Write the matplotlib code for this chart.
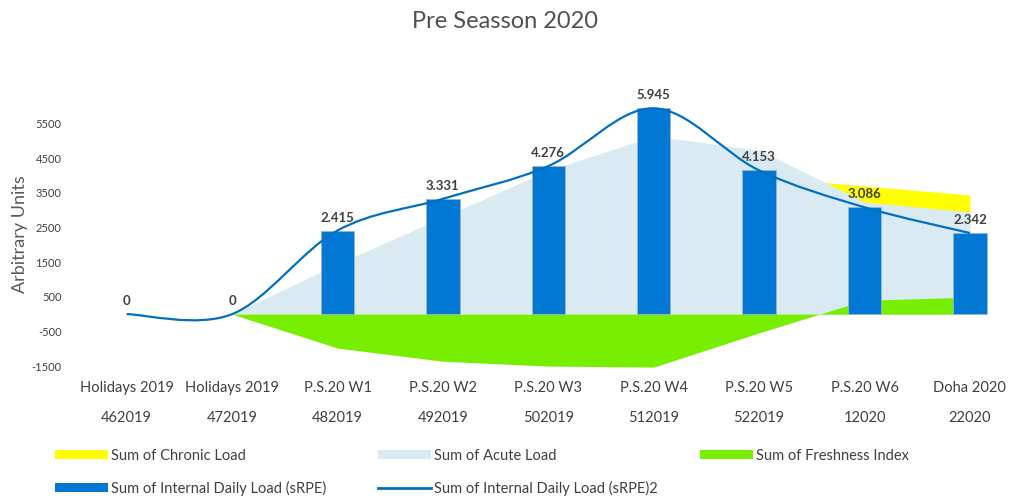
import matplotlib.pyplot as plt
import numpy as np
from matplotlib.path import Path
from matplotlib.patches import PathPatch, Patch
from matplotlib.lines import Line2D
import matplotlib.transforms as mtransforms

# data
week_names = ["Holidays 2019", "Holidays 2019", "P.S.20 W1", "P.S.20 W2", "P.S.20 W3",
              "P.S.20 W4", "P.S.20 W5", "P.S.20 W6", "Doha 2020"]
week_codes = ["462019", "472019", "482019", "492019", "502019",
              "512019", "522019", "12020", "22020"]
internal_load = [0, 0, 2415, 3331, 4276, 5945, 4153, 3086, 2342]
acute_load = [0, 0, 1450, 2800, 4150, 5140, 4740, 3240, 2950]
chronic_load = [0, 0, 500, 1400, 2400, 3300, 3960, 3700, 3440]
freshness = [0, 0, -980, -1360, -1500, -1530, -540, 400, 490]
y_ticks = [5500, 4500, 3500, 2500, 1500, 500, -500, -1500]

plt.rcParams['font.family'] = ['Lato', 'DejaVu Sans']

c_yellow = "#FFFF00"
c_acute = "#DAEAF3"
c_green = "#77EE00"
c_bar = "#0078D4"
c_line = "#0070C0"
c_text = "#404040"


def smooth_path(xs, ys):
    # excel style smoothed line: cubic bezier with 1/6 tangents
    pts = np.column_stack([xs, ys]).astype(float)
    n = len(pts)
    verts = [pts[0]]
    codes = [Path.MOVETO]
    for i in range(n - 1):
        p0 = pts[max(i - 1, 0)]
        p1 = pts[i]
        p2 = pts[i + 1]
        p3 = pts[min(i + 2, n - 1)]
        c1 = p1 + (p2 - p0) / 6.0
        c2 = p2 - (p3 - p1) / 6.0
        verts += [c1, c2, p2]
        codes += [Path.CURVE4] * 3
    return Path(verts, codes)


fig = plt.figure(figsize=(10.11, 4.98), dpi=100)
ax = fig.add_axes([74 / 1011, 125 / 498, (1011 - 74) / 1011, 277 / 498])

x = np.arange(len(week_names))

ax.fill_between(x, 0, chronic_load, color=c_yellow, lw=0, zorder=1)
ax.fill_between(x, 0, acute_load, color=c_acute, lw=0, zorder=2)
ax.fill_between(x, 0, freshness, color=c_green, lw=0, zorder=3)
bars = ax.bar(x, internal_load, width=0.315, color=c_bar, edgecolor="#9DB5C8",
              linewidth=0.6, zorder=4)
for b, v in zip(bars, internal_load):
    if v == 0:
        b.set_linewidth(0)
ax.add_patch(PathPatch(smooth_path(x, internal_load), fill=False,
                       edgecolor=c_line, lw=1.6, zorder=5))

for xi, v in zip(x, internal_load):
    ax.annotate(f"{v:,}".replace(",", "."), (xi, v), xytext=(0, 5),
                textcoords="offset points", ha="center", va="bottom",
                fontsize=9.5, fontweight="bold", color=c_text, zorder=6)

ax.set_xlim(-0.5, -0.5 + (1011 - 74) / 105.4)
ax.set_ylim(-1700, 6300)
ax.set_yticks(y_ticks)
ax.set_yticklabels([str(t) for t in y_ticks], fontsize=8, color=c_text)
ax.tick_params(axis="y", length=0, pad=9)
ax.set_xticks([])
for s in ax.spines.values():
    s.set_visible(False)

ax.set_ylabel("Arbitrary Units", fontsize=13, color="#595959")
ax.yaxis.set_label_coords(-46 / 937, 0.5)

# two-level category axis
trans = mtransforms.blended_transform_factory(ax.transData, fig.transFigure)
for xi, nm, cd in zip(x, week_names, week_codes):
    ax.text(xi, 1 - 388 / 498, nm, transform=trans, ha="center", va="center",
            fontsize=10.5, color=c_text)
    ax.text(xi, 1 - 418 / 498, cd, transform=trans, ha="center", va="center",
            fontsize=10.5, color=c_text)

fig.text(505 / 1011, 1 - 22 / 498, "Pre Seasson 2020", ha="center", va="center",
         fontsize=17, color="#505050")

# legend in three fixed columns
h_chronic = Patch(facecolor=c_yellow, lw=0)
h_acute = Patch(facecolor=c_acute, lw=0)
h_fresh = Patch(facecolor=c_green, lw=0)
h_bar = Patch(facecolor=c_bar, lw=0)
h_line = Line2D([], [], color=c_line, lw=2)
cols = [
    (55, [h_chronic, h_bar], ["Sum of Chronic Load", "Sum of Internal Daily Load (sRPE)"]),
    (378, [h_acute, h_line], ["Sum of Acute Load", "Sum of Internal Daily Load (sRPE)2"]),
    (700, [h_fresh], ["Sum of Freshness Index"]),
]
for px, hs, ls in cols:
    leg = fig.legend(hs, ls, loc="upper left", bbox_to_anchor=(px / 1011, 1 - 449 / 498),
                     frameon=False, fontsize=10.5, handlelength=3.6, handleheight=0.6,
                     handletextpad=0.25, labelspacing=1.2, borderpad=0, borderaxespad=0)
    for t in leg.get_texts():
        t.set_color(c_text)

fig.savefig("out.png", dpi=100)
